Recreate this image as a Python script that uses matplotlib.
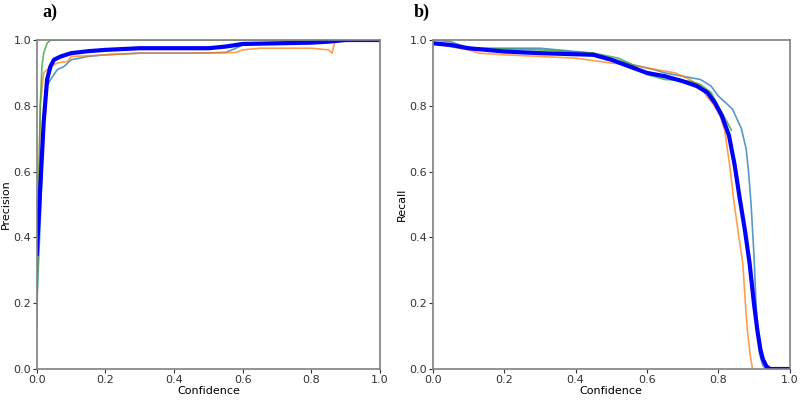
import numpy as np
import matplotlib.pyplot as plt

# precision vs confidence (panel a)
p_x_blue = [0.0, 0.01, 0.02, 0.03, 0.04, 0.06, 0.08, 0.1, 0.15, 0.2, 0.3, 0.45, 0.55, 0.58, 0.6, 0.7, 0.8, 0.88, 0.9, 1.0]
p_y_blue = [0.2, 0.45, 0.75, 0.86, 0.88, 0.91, 0.92, 0.94, 0.95, 0.955, 0.96, 0.96, 0.962, 0.975, 0.985, 0.99, 0.99, 0.995, 1.0, 1.0]
p_x_orange = [0.0, 0.005, 0.01, 0.02, 0.04, 0.06, 0.09, 0.1, 0.15, 0.2, 0.3, 0.45, 0.58, 0.6, 0.65, 0.8, 0.85, 0.86, 0.87, 1.0]
p_y_orange = [0.2, 0.5, 0.8, 0.9, 0.92, 0.93, 0.935, 0.95, 0.952, 0.955, 0.96, 0.96, 0.962, 0.97, 0.975, 0.975, 0.97, 0.96, 1.0, 1.0]
p_x_green = [0.0, 0.005, 0.01, 0.015, 0.02, 0.03, 0.04, 0.05, 1.0]
p_y_green = [0.13, 0.5, 0.8, 0.92, 0.96, 0.99, 1.0, 1.0, 1.0]
p_x_mean = [0.0, 0.01, 0.02, 0.03, 0.04, 0.05, 0.07, 0.1, 0.15, 0.2, 0.3, 0.5, 0.55, 0.6, 0.7, 0.8, 0.85, 0.9, 1.0]
p_y_mean = [0.35, 0.55, 0.75, 0.88, 0.92, 0.94, 0.95, 0.96, 0.966, 0.97, 0.975, 0.975, 0.98, 0.988, 0.99, 0.992, 0.995, 1.0, 1.0]

# recall vs confidence (panel b)
r_x_blue = [0.0, 0.05, 0.1, 0.3, 0.45, 0.56, 0.62, 0.65, 0.7, 0.75, 0.78, 0.8, 0.82, 0.84, 0.865, 0.878, 0.885, 0.892, 0.9, 0.905, 0.91, 0.915, 0.925, 0.935, 1.0]
r_y_blue = [1.0, 0.995, 0.975, 0.975, 0.96, 0.925, 0.91, 0.9, 0.89, 0.88, 0.86, 0.83, 0.81, 0.79, 0.73, 0.67, 0.6, 0.5, 0.35, 0.22, 0.11, 0.05, 0.01, 0.0, 0.0]
r_x_orange = [0.0, 0.02, 0.1, 0.13, 0.2, 0.3, 0.4, 0.5, 0.55, 0.6, 0.68, 0.72, 0.75, 0.767, 0.79, 0.805, 0.818, 0.832, 0.845, 0.858, 0.869, 0.876, 0.882, 0.89, 0.896]
r_y_orange = [0.99, 0.985, 0.97, 0.96, 0.955, 0.95, 0.945, 0.93, 0.925, 0.915, 0.9, 0.88, 0.86, 0.83, 0.8, 0.77, 0.726, 0.62, 0.5, 0.4, 0.32, 0.2, 0.115, 0.04, 0.0]
r_x_green = [0.0, 0.05, 0.1, 0.3, 0.45, 0.52, 0.55, 0.58, 0.6, 0.65, 0.72, 0.75, 0.78, 0.8, 0.82, 0.837]
r_y_green = [0.99, 0.985, 0.975, 0.97, 0.96, 0.945, 0.93, 0.91, 0.895, 0.88, 0.875, 0.865, 0.84, 0.8, 0.76, 0.726]
r_x_mean = [0.0, 0.05, 0.1, 0.2, 0.3, 0.45, 0.5, 0.55, 0.6, 0.65, 0.7, 0.74, 0.77, 0.79, 0.81, 0.83, 0.846, 0.86, 0.875, 0.888, 0.9, 0.91, 0.918, 0.925, 0.935, 0.945, 1.0]
r_y_mean = [0.99, 0.985, 0.975, 0.965, 0.96, 0.955, 0.94, 0.92, 0.9, 0.89, 0.875, 0.86, 0.84, 0.81, 0.77, 0.71, 0.62, 0.52, 0.42, 0.32, 0.2, 0.115, 0.06, 0.03, 0.008, 0.0, 0.0]

thin = dict(lw=1.2, alpha=0.75)
gray = '#808080'

fig = plt.figure(figsize=(8, 4), dpi=100)
ax1 = fig.add_axes([0.046, 0.0775, 0.429, 0.8225])
ax2 = fig.add_axes([0.541, 0.0775, 0.446, 0.8225])

ax1.plot(p_x_blue, p_y_blue, color='#1f77b4', **thin)
ax1.plot(p_x_orange, p_y_orange, color='#ff7f0e', **thin)
ax1.plot(p_x_green, p_y_green, color='#2ca02c', **thin)
ax1.plot(p_x_mean, p_y_mean, color='#0000ff', lw=3)
ax1.set_ylabel('Precision', fontsize=8, labelpad=2)

ax2.plot(r_x_blue, r_y_blue, color='#1f77b4', **thin)
ax2.plot(r_x_orange, r_y_orange, color='#ff7f0e', **thin)
ax2.plot(r_x_green, r_y_green, color='#2ca02c', **thin)
ax2.plot(r_x_mean, r_y_mean, color='#0000ff', lw=3)
ax2.set_ylabel('Recall', fontsize=8, labelpad=2)

for ax in (ax1, ax2):
    ax.set_xlim(0, 1)
    ax.set_ylim(0, 1)
    ax.set_xticks(np.arange(0, 1.01, 0.2))
    ax.set_yticks(np.arange(0, 1.01, 0.2))
    ax.tick_params(labelsize=8, length=3, pad=1, colors='#333333')
    ax.set_xlabel('Confidence', fontsize=8, labelpad=1)
    for s in ax.spines.values():
        s.set_color(gray)
        s.set_linewidth(1.2)

fig.text(0.062, 0.97, 'a)', fontsize=13, fontweight='bold', family='Liberation Serif', ha='center', va='center')
fig.text(0.527, 0.97, 'b)', fontsize=13, fontweight='bold', family='Liberation Serif', ha='center', va='center')

fig.savefig('out.png', dpi=100)
